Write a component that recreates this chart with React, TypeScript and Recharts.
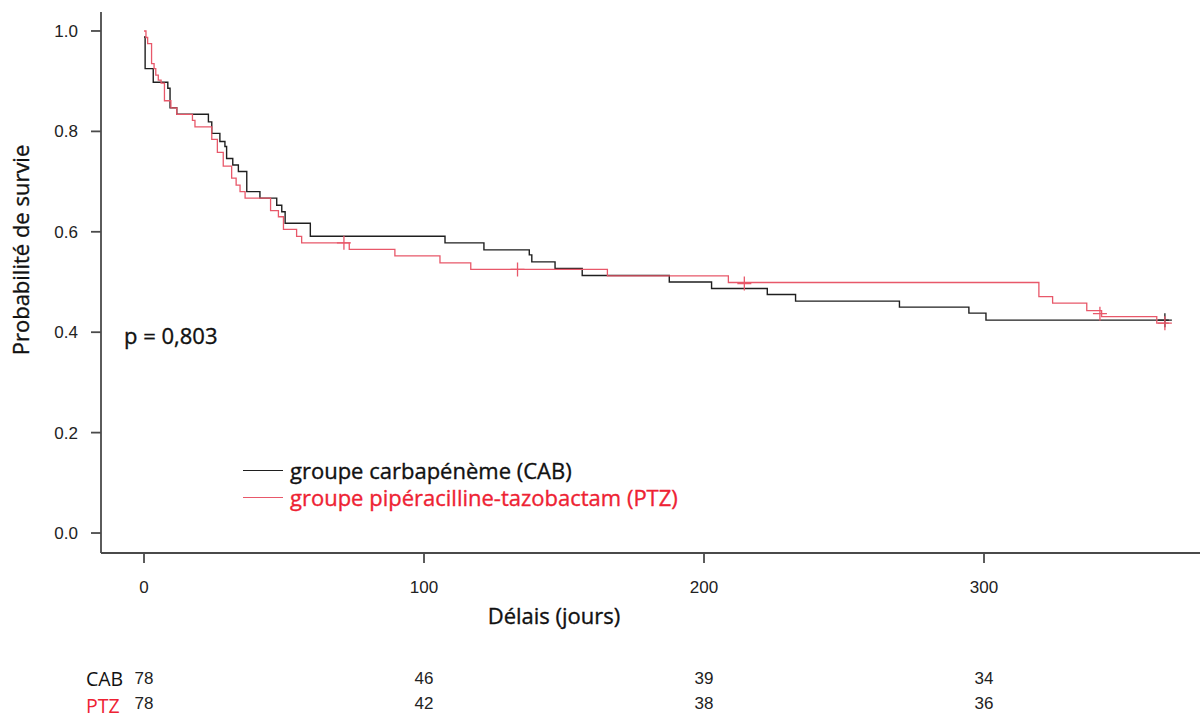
import React from "react";
import { ComposedChart, Line, Scatter, XAxis, YAxis } from "recharts";

// Kaplan-Meier steps (t in days, s = survival)
const cabTimes = [0, 0.4, 3.3, 8.5, 9.3, 11.7, 23.0, 24.2, 27.1, 28.9, 29.5, 31.7, 33.7, 36.7, 41.4, 47.4, 49.2, 50.4, 59.4, 107.5, 121.4, 137.6, 138.5, 146.8, 156.5, 187.6, 202.7, 222.6, 232.7, 269.8, 294.6, 300.7, 366];
const cabSurv = [0.988, 0.925, 0.898, 0.886, 0.847, 0.834, 0.819, 0.796, 0.78, 0.77, 0.746, 0.733, 0.72, 0.68, 0.667, 0.653, 0.64, 0.617, 0.591, 0.578, 0.564, 0.554, 0.54, 0.527, 0.513, 0.5, 0.487, 0.475, 0.462, 0.45, 0.438, 0.424, 0.424];

const ptzTimes = [0, 0.7, 1.3, 2.7, 3.6, 4.2, 5.1, 6.1, 7.3, 9.6, 11.7, 17.3, 18.2, 24.2, 26.2, 28.3, 31.3, 32.9, 34.3, 36.1, 45.2, 48.0, 49.8, 54.5, 56.3, 73.3, 89.6, 105.7, 116.7, 165.5, 208.7, 319.6, 324.5, 336.7, 342.0, 361.7, 366];
const ptzSurv = [1.0, 0.987, 0.975, 0.935, 0.925, 0.912, 0.902, 0.896, 0.861, 0.847, 0.834, 0.822, 0.809, 0.784, 0.758, 0.731, 0.707, 0.693, 0.68, 0.667, 0.642, 0.63, 0.605, 0.591, 0.578, 0.565, 0.552, 0.538, 0.525, 0.512, 0.499, 0.471, 0.458, 0.443, 0.431, 0.418, 0.418];

// censored observations (+)
const cabCensorTimes = [364.6];
const cabCensorSurv = [0.424];
const ptzCensorTimes = [71.4, 133.4, 214.4, 341.4, 364.6];
const ptzCensorSurv = [0.578, 0.525, 0.497, 0.437, 0.418];

// numbers at risk
const riskTimes = [0, 100, 200, 300];
const cabRisk = [78, 46, 39, 34];
const ptzRisk = [78, 42, 38, 36];

const yTicks = [0, 0.2, 0.4, 0.6, 0.8, 1.0];

const BLACK = "#1f1f1f";
const RED_LINE = "#e8586a";
const RED_TEXT = "#ee2233";
const AXIS = "#4a4a4a";

const zip = (ts: number[], ss: number[]) => ts.map((t, i) => ({ t, s: ss[i] }));

const cabData = zip(cabTimes, cabSurv);
const ptzData = zip(ptzTimes, ptzSurv);
const cabCensor = zip(cabCensorTimes, cabCensorSurv);
const ptzCensor = zip(ptzCensorTimes, ptzCensorSurv);

const cross = (color: string) => (props: any) => {
  const { cx, cy } = props;
  return (
    <path
      d={`M${cx - 7},${cy}h14M${cx},${cy - 7}v14`}
      stroke={color}
      strokeWidth={1.3}
      fill="none"
    />
  );
};

const tickFont = { fontFamily: "Liberation Sans, Arial, sans-serif", fontSize: 17, fill: "#222" };
const labelFont = "'Open Sans', sans-serif";

// x tick + the two numbers-at-risk rows under it
const TimeTick = (props: any) => {
  const { x, y, payload } = props;
  const i = riskTimes.indexOf(payload.value);
  return (
    <g>
      <text x={x} y={y} dy="0.71em" textAnchor="middle" {...tickFont}>
        {payload.value}
      </text>
      <text x={x} y={y + 91} dy="0.71em" textAnchor="middle" {...tickFont}>
        {cabRisk[i]}
      </text>
      <text x={x} y={y + 116} dy="0.71em" textAnchor="middle" {...tickFont}>
        {ptzRisk[i]}
      </text>
    </g>
  );
};

const textBase = {
  position: "absolute" as const,
  whiteSpace: "nowrap" as const,
  fontFamily: labelFont,
  fontSize: 22,
  lineHeight: 1,
  color: "#111",
  WebkitTextStroke: "0.35px currentColor",
};

export default function App() {
  return (
    <div
      style={{
        position: "absolute",
        left: 0,
        top: 0,
        width: 1200,
        height: 720,
        background: "#fff",
        overflow: "hidden",
      }}
    >
      <ComposedChart
        width={1200}
        height={720}
        margin={{ top: 12, right: 0, left: 41, bottom: 5 }}
      >
        <XAxis
          dataKey="t"
          type="number"
          domain={[-15.36, 377.14]}
          ticks={riskTimes}
          interval={0}
          height={162}
          tickSize={10}
          tickMargin={18}
          axisLine={{ stroke: AXIS, strokeWidth: 1.8 }}
          tickLine={{ stroke: AXIS, strokeWidth: 1.8 }}
          tick={<TimeTick />}
        />
        <YAxis
          type="number"
          domain={[-0.0398, 1.0378]}
          ticks={yTicks}
          interval={0}
          width={60}
          tickSize={10}
          tickMargin={13}
          axisLine={{ stroke: AXIS, strokeWidth: 1.8 }}
          tickLine={{ stroke: AXIS, strokeWidth: 1.8 }}
          tick={tickFont}
          tickFormatter={(v: number) => v.toFixed(1)}
        />
        <Line
          data={cabData}
          dataKey="s"
          type="stepAfter"
          stroke={BLACK}
          strokeWidth={1.4}
          dot={false}
          activeDot={false}
          isAnimationActive={false}
        />
        <Line
          data={ptzData}
          dataKey="s"
          type="stepAfter"
          stroke={RED_LINE}
          strokeWidth={1.3}
          dot={false}
          activeDot={false}
          isAnimationActive={false}
        />
        <Scatter data={cabCensor} dataKey="s" shape={cross(BLACK)} isAnimationActive={false} />
        <Scatter data={ptzCensor} dataKey="s" shape={cross(RED_LINE)} isAnimationActive={false} />
      </ComposedChart>

      {/* y axis title */}
      <div style={{ ...textBase, left: 20, top: 250, transform: "translate(-50%, -50%) rotate(-90deg)" }}>
        Probabilité de survie
      </div>

      {/* x axis title */}
      <div style={{ ...textBase, left: 554, top: 615, transform: "translate(-50%, -50%)" }}>
        Délais (jours)
      </div>

      {/* p value */}
      <div style={{ ...textBase, left: 124, top: 335, transform: "translateY(-50%)" }}>
        p = 0,803
      </div>

      {/* legend */}
      {[
        { label: "groupe carbapénème (CAB)", line: BLACK, text: "#111", y: 470 },
        { label: "groupe pipéracilline-tazobactam (PTZ)", line: RED_LINE, text: RED_TEXT, y: 497 },
      ].map((item) => (
        <div
          key={item.label}
          style={{
            ...textBase,
            left: 243,
            top: item.y,
            transform: "translateY(-50%)",
            display: "flex",
            alignItems: "center",
            color: item.text,
          }}
        >
          <span
            style={{
              display: "inline-block",
              width: 40,
              height: 0,
              borderTop: `1.5px solid ${item.line}`,
              marginRight: 7,
            }}
          />
          {item.label}
        </div>
      ))}

      {/* risk table row labels */}
      <div style={{ ...textBase, fontSize: 19.5, WebkitTextStroke: "0", left: 86, top: 679, transform: "translateY(-50%)" }}>
        CAB
      </div>
      <div
        style={{
          ...textBase,
          fontSize: 19.5,
          WebkitTextStroke: "0",
          left: 86,
          top: 706,
          transform: "translateY(-50%)",
          color: RED_TEXT,
        }}
      >
        PTZ
      </div>
    </div>
  );
}
